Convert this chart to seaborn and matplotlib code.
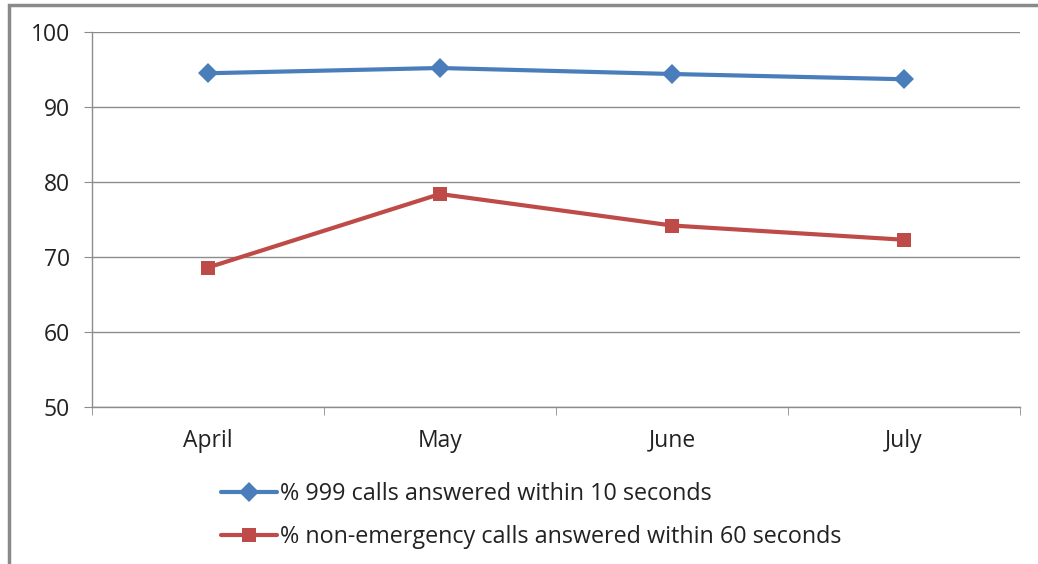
import seaborn as sns
import pandas as pd
import matplotlib.pyplot as plt
from matplotlib.patches import Rectangle

months = ["April", "May", "June", "July"]
calls_999 = [94.5, 95.2, 94.4, 93.7]
calls_non_emergency = [68.6, 78.4, 74.2, 72.3]
label_999 = "% 999 calls answered within 10 seconds"
label_non = "% non-emergency calls answered within 60 seconds"

df = pd.DataFrame({
    "month": months * 2,
    "pct": calls_999 + calls_non_emergency,
    "series": [label_999] * 4 + [label_non] * 4,
})
df["pos"] = list(range(4)) * 2

sns.set_style("white")
plt.rcParams['font.family'] = ['Open Sans', 'DejaVu Sans']

fig = plt.figure(figsize=(10.38, 5.64), dpi=100)
ax = fig.add_axes([92/1038, 1-407/564, (1020-92)/1038, (407-32)/564])

sns.lineplot(data=df, x="pos", y="pct", hue="series", style="series",
             markers={label_999: "D", label_non: "s"}, dashes=False,
             palette={label_999: "#4A7EBB", label_non: "#BE4B48"},
             linewidth=3, markersize=10.5, markeredgewidth=0, ax=ax, legend=True)

ax.set_xlim(-0.5, 3.5)
ax.set_ylim(50, 100)
ax.set_yticks([50, 60, 70, 80, 90, 100])
ax.set_xticks(range(4))
ax.set_xticklabels(months)
ax.set_xticks([-0.5, 0.5, 1.5, 2.5, 3.5], minor=True)
ax.set_xlabel("")
ax.set_ylabel("")
ax.grid(axis="y", color="#8c8c8c", linewidth=1)
ax.grid(axis="x", visible=False)
for s in ["top", "right"]:
    ax.spines[s].set_visible(False)
for s in ["left", "bottom"]:
    ax.spines[s].set_color("#8c8c8c")
    ax.spines[s].set_linewidth(1)
ax.tick_params(axis="y", which="major", left=True, length=6, color="#8c8c8c",
               labelsize=16.5, pad=10, labelcolor="#222222")
ax.tick_params(axis="x", which="major", bottom=False, labelsize=16.5, pad=12,
               labelcolor="#222222")
ax.tick_params(axis="x", which="minor", bottom=True, length=6, color="#8c8c8c")

handles, labels = ax.get_legend_handles_labels()
ax.get_legend().remove()
fig.legend(handles, labels, loc="upper left", bbox_to_anchor=(200/1038, 1-461/564),
           frameon=False, fontsize=16.8, handlelength=2.4, labelspacing=0.82,
           handletextpad=0.15, labelcolor="#222222")

fig.add_artist(Rectangle((9/1038, -0.1), 1.2, 1.1 - 5/564, transform=fig.transFigure,
                         fill=False, edgecolor="#8a8a8a", linewidth=2.5, clip_on=False))

fig.savefig("out.png", dpi=100)
